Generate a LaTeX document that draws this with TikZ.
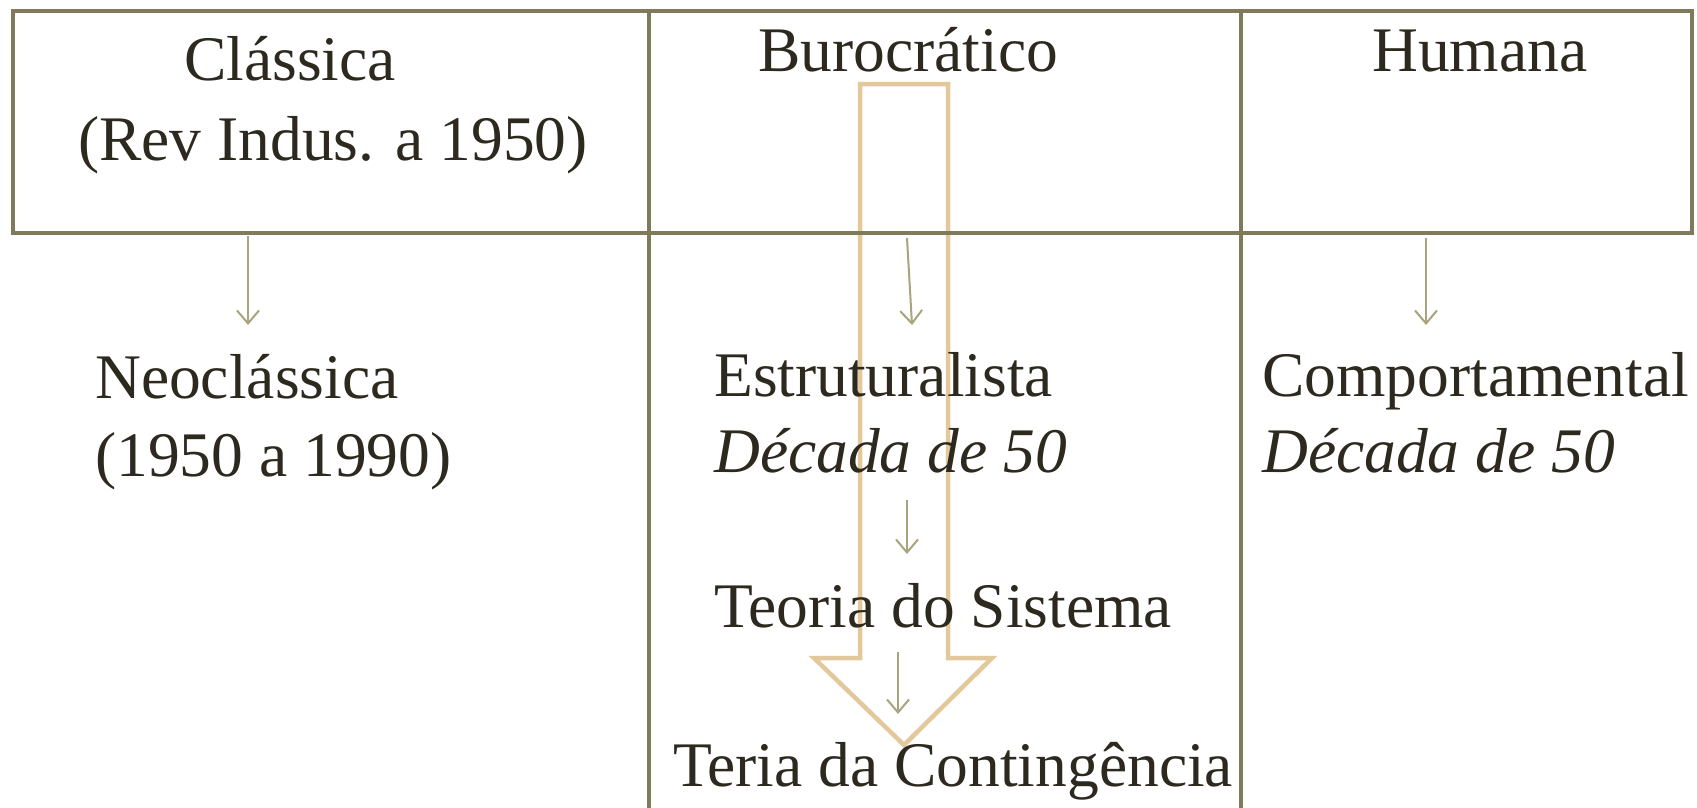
\documentclass[tikz,border=0pt]{standalone}
\usepackage{fontspec}
\setmainfont{Liberation Serif}
\usetikzlibrary{arrows.meta}
\definecolor{gridc}{HTML}{7F7A5C}
\definecolor{arrc}{HTML}{A8A47E}
\definecolor{bigc}{HTML}{E2C89B}
\definecolor{txt}{HTML}{2D291F}
\begin{document}
\begin{tikzpicture}[x=1pt,y=-1pt,
 grid/.style={draw=gridc,line width=4.5pt},
 small/.style={draw=arrc,line width=2pt,-{Straight Barb[length=13pt,width=22pt]}},
 lbl/.style={text=txt,inner sep=0pt,anchor=base west},
 tms/.style={lbl,font=\fontsize{63.5}{72}\selectfont},
 tmsit/.style={lbl,font=\fontsize{63.5}{72}\selectfont\itshape}]
\useasboundingbox[fill=white] (0,0) rectangle (1697,808);

% big outline arrow
\draw[draw=bigc,line width=4.5pt,line join=miter]
  (860,84) -- (948,84) -- (948,658) -- (992,658) -- (904,745) -- (814,658) -- (860,658) -- cycle;

% grid
\draw[grid] (13,11) rectangle (1692,233);
\draw[grid] (649,11) -- (649,808);
\draw[grid] (1241,11) -- (1241,808);

% header texts
\node[tms] (classica) at (184,81) {Clássica};
\node[tms] (rev) at (78,160) {(Rev Indus. a 1950)};
\node[tms] (buro) at (758,71) {Burocrático};
\node[tms] (humana) at (1372,71) {Humana};

% column texts
\node[tms] (neo) at (95,398) {Neoclássica};
\node[tms] (neoyr) at (95,476) {(1950 a 1990)};
\node[tms] (estr) at (714,396) {Estruturalista};
\node[tmsit] (estryr) at (714,472) {Década de 50};
\node[tms] (sist) at (714,627) {Teoria do Sistema};
\node[tms] (cont) at (673,786) {Teria da Contingência};
\node[tms] (comp) at (1262,396) {Comportamental};
\node[tmsit] (compyr) at (1262,472) {Década de 50};

% small arrows
\coordinate (a1s) at (248,236); \coordinate (a1e) at (248,325);
\coordinate (a2s) at (907,238); \coordinate (a2e) at (912,325);
\coordinate (a3s) at (907,500); \coordinate (a3e) at (907,554);
\coordinate (a4s) at (898,652); \coordinate (a4e) at (898,714);
\coordinate (a5s) at (1426,238); \coordinate (a5e) at (1426,325);
\draw[small] (a1s) -- (a1e);
\draw[small] (a2s) -- (a2e);
\draw[small] (a3s) -- (a3e);
\draw[small] (a4s) -- (a4e);
\draw[small] (a5s) -- (a5e);
\end{tikzpicture}
\end{document}
